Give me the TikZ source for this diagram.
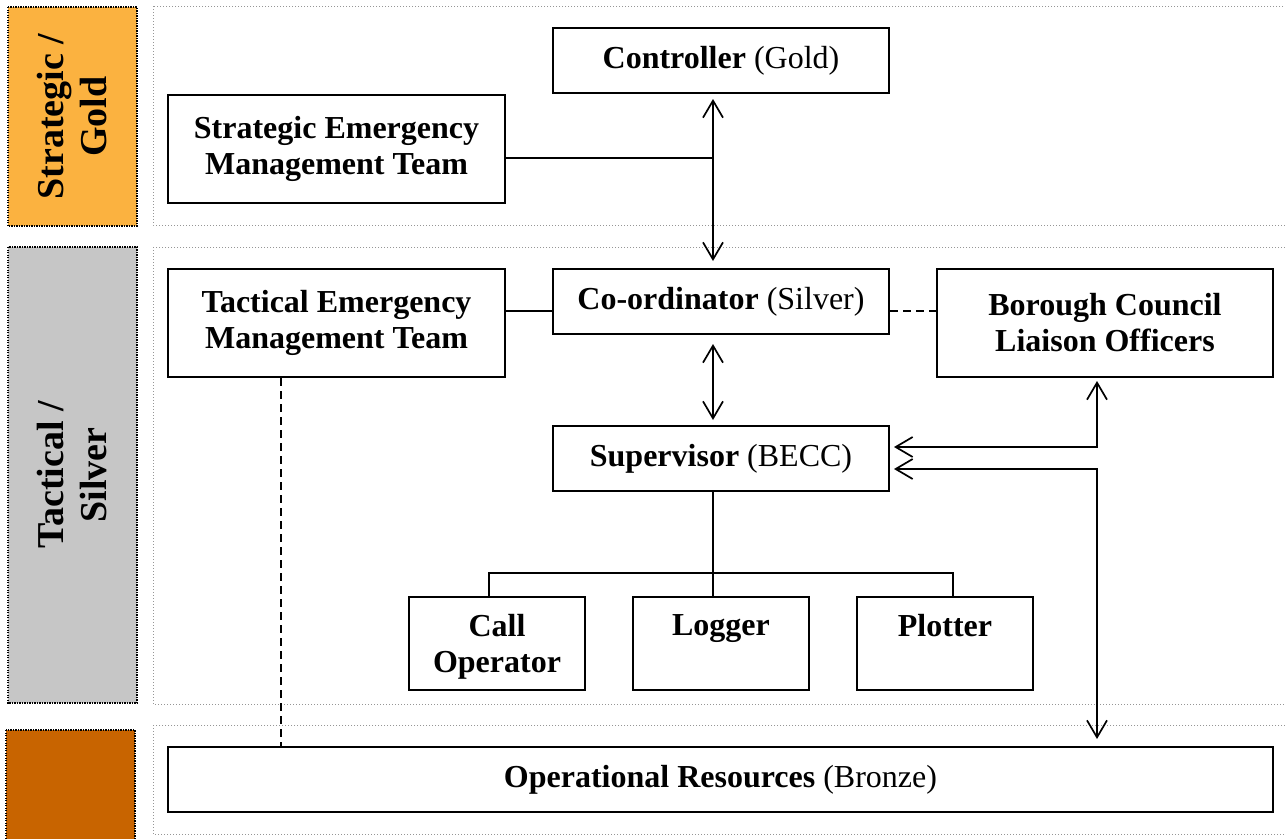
\documentclass[tikz,border=0pt]{standalone}
\usepackage{fontspec}
\setmainfont{Liberation Serif}
\usetikzlibrary{arrows.meta}
\definecolor{goldc}{RGB}{251,178,64}
\definecolor{silverc}{RGB}{198,198,198}
\definecolor{bronzec}{RGB}{200,100,0}
\definecolor{panelc}{RGB}{150,150,150}
\begin{document}
\begin{tikzpicture}[x=1pt,y=-1pt,
 box/.style={draw,line width=2pt,inner sep=0pt,align=center,font=\fontsize{32}{36}\selectfont\bfseries},
 band/.style={draw=black,line width=1.3pt,dash pattern=on 1.2pt off 1.3pt,inner sep=0pt,align=center,rotate=90,font=\fontsize{38}{43}\selectfont\bfseries},
 panel/.style={draw=panelc,line width=1pt,dash pattern=on 1pt off 2pt},
 conn/.style={line width=1.7pt},
 tip/.tip={Straight Barb[length=17pt,width=20pt]},
 arr/.style={conn,tip-tip},
 dashconn/.style={conn,dash pattern=on 8pt off 5pt},
]
\useasboundingbox (0,0) rectangle (1285,838);
% panels
\draw[panel] (153,6) rectangle (1300,225);
\draw[panel] (153,247) rectangle (1300,704);
\draw[panel] (153,725) rectangle (1300,834);
% bands
\node[band,fill=goldc,minimum width=219,minimum height=129] (gold) at (72.5,116.5) {Strategic /\\Gold};
\node[band,fill=silverc,minimum width=456,minimum height=129] (silver) at (72.5,475) {Tactical /\\Silver};
\node[band,fill=bronzec,minimum width=130,minimum height=129] (bronze) at (70.5,795) {};
% boxes
\node[box,minimum width=336,minimum height=65] (ctrl) at (721,60.5) {Controller \textmd{(Gold)}};
\node[box,minimum width=337,minimum height=108] (semt) at (336.5,149) {Strategic Emergency\\Management Team};
\node[box,minimum width=337,minimum height=108] (temt) at (336.5,323) {Tactical Emergency\\Management Team};
\node[box,minimum width=336,minimum height=65] (coord) at (721,301.5) {Co-ordinator \textmd{(Silver)}};
\node[box,minimum width=336,minimum height=108] (boro) at (1105,323) {Borough Council\\Liaison Officers};
\node[box,minimum width=336,minimum height=65] (sup) at (721,458.5) {Supervisor \textmd{(BECC)}};
\node[box,minimum width=176,minimum height=93,text depth=0pt] (call) at (497,643.5) {Call\\Operator};
\node[box,minimum width=176,minimum height=93] (logger) at (721,643.5) {Logger\\[-10pt]\strut};
\node[box,minimum width=176,minimum height=93] (plotter) at (945,643.5) {Plotter\\[-10pt]\strut};
\node[box,minimum width=1105,minimum height=65] (ops) at (720.5,779.5) {Operational Resources \textmd{(Bronze)}};
% helper coordinates
\coordinate (ax) at (713,0);
\coordinate (sj) at (713,158);
\coordinate (tj) at (0,311);
\coordinate (bl) at (489,573);
\coordinate (br) at (953,573);
\coordinate (r1) at (1097,447);
\coordinate (r2) at (1097,469);
\coordinate (dx) at (281,0);
% connectors
\draw[arr,shorten <=5pt,shorten >=7pt] (ctrl.south -| ax) -- (coord.north -| ax);
\draw[conn] (semt.east |- sj) -- (sj);
\draw[conn] (temt.east |- tj) -- (coord.west |- tj);
\draw[dashconn] (coord.east |- tj) -- (boro.west |- tj);
\draw[arr,shorten <=9pt,shorten >=5pt] (coord.south -| ax) -- (sup.north -| ax);
\draw[conn] (sup.south -| ax) -- (ax |- logger.north);
\draw[conn] (bl |- call.north) -- (bl) -- (br) -- (br |- plotter.north);
\draw[arr,shorten <=4pt,shorten >=3pt] (r1 -| sup.east) -- (r1) -- (boro.south -| r1);
\draw[arr,shorten <=4pt,shorten >=7pt] (r2 -| sup.east) -- (r2) -- (ops.north -| r2);
\draw[dashconn] (temt.south -| dx) -- (ops.north -| dx);
\end{tikzpicture}
\end{document}
